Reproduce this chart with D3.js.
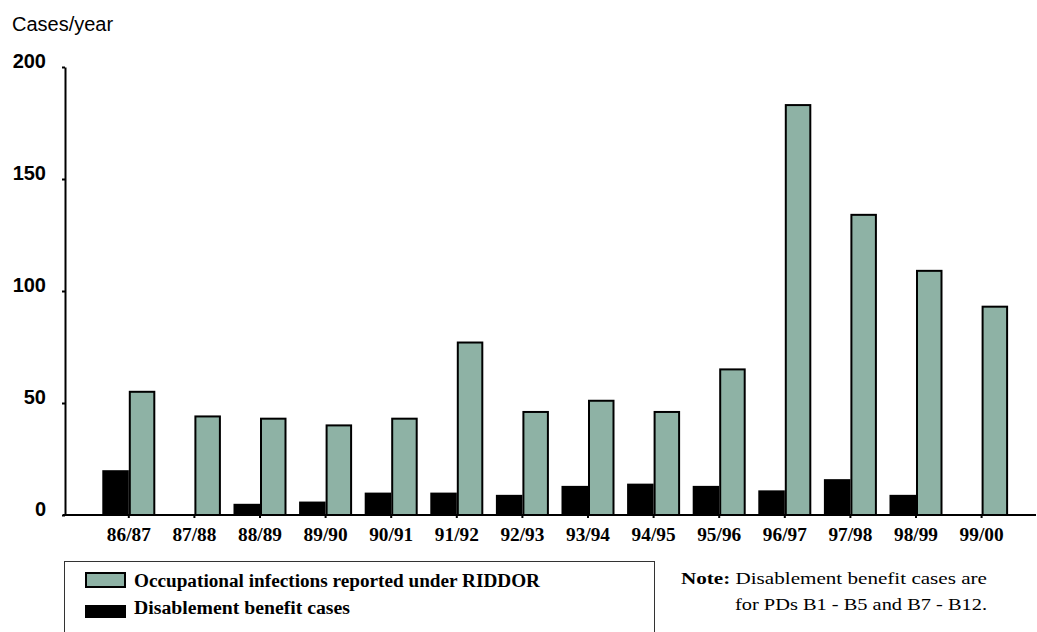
<!DOCTYPE html>
<html>
<head>
<meta charset="utf-8">
<script src="https://cdn.jsdelivr.net/npm/d3@7"></script>
<style>
  html, body { margin: 0; padding: 0; background: #fff; }
  svg { display: block; }
</style>
</head>
<body>
<script>
// Reporting years (financial years)
const years = ["86/87","87/88","88/89","89/90","90/91","91/92","92/93","93/94","94/95","95/96","96/97","97/98","98/99","99/00"];
// Disablement benefit cases per year
const benefitCases = [20, 0, 5, 6, 10, 10, 9, 13, 14, 13, 11, 16, 9, 0];
// Occupational infections reported under RIDDOR per year
const riddorCases = [55, 44, 43, 40, 43, 77, 46, 51, 46, 65, 183, 134, 109, 93];
// Y axis ticks
const yTicks = [0, 50, 100, 150, 200];

const W = 1037, H = 632;
const svg = d3.select("body").append("svg").attr("width", W).attr("height", H);

const GREEN = "#8eb2a5";
const sans = "'Liberation Sans', Arial, sans-serif";
const serif = "'Liberation Serif', 'Times New Roman', serif";

const y = d3.scaleLinear().domain([0, 200]).range([515, 67]);
const pad = 0.192;
const x = d3.scaleBand().domain(years).range([96, 1014.4]).paddingInner(pad).paddingOuter(pad / 2);
const series = ["benefit", "riddor"];
const xs = d3.scaleBand().domain(series).range([0, x.bandwidth()]);

const rows = years.map((yr, i) => ({ year: yr, benefit: benefitCases[i], riddor: riddorCases[i] }));

// Bars
const groups = svg.append("g").selectAll("g").data(rows).join("g")
  .attr("transform", d => `translate(${x(d.year)},0)`);

groups.filter(d => d.benefit > 0).append("rect")
  .attr("x", xs("benefit"))
  .attr("width", xs.bandwidth())
  .attr("y", d => y(d.benefit))
  .attr("height", d => y(0) - y(d.benefit))
  .attr("fill", "#000");

groups.append("rect")
  .attr("x", xs("riddor") + 1)
  .attr("width", xs.bandwidth() - 2)
  .attr("y", d => y(d.riddor))
  .attr("height", d => y(0) - y(d.riddor))
  .attr("fill", GREEN)
  .attr("stroke", "#000")
  .attr("stroke-width", 2);

// Y axis
const yAxis = svg.append("g").attr("transform", "translate(65,0)")
  .call(d3.axisLeft(y).tickValues(yTicks).tickSize(3).tickSizeOuter(0).tickFormat(d3.format("d")));
yAxis.select(".domain").attr("stroke-width", 2);
yAxis.selectAll(".tick line").attr("stroke-width", 2);
yAxis.selectAll(".tick text")
  .attr("x", -19).attr("dy", "0")
  .attr("font-family", sans).attr("font-weight", "bold").attr("font-size", 20).attr("fill", "#000");

// X axis
const xAxis = svg.append("g").attr("transform", "translate(0,515)")
  .call(d3.axisBottom(x).tickSize(3).tickSizeOuter(0));
xAxis.select(".domain").attr("d", "M63,0H1036").attr("stroke-width", 2);
xAxis.selectAll(".tick line").attr("stroke-width", 2);
xAxis.selectAll(".tick text")
  .attr("y", 26).attr("dy", "0")
  .attr("textLength", 44).attr("lengthAdjust", "spacingAndGlyphs")
  .attr("font-family", serif).attr("font-weight", "bold").attr("font-size", 19).attr("fill", "#000");

// Axis title
svg.append("text").attr("x", 12).attr("y", 31)
  .attr("font-family", sans).attr("font-size", 20).text("Cases/year");

// Legend
const lg = svg.append("g");
lg.append("rect").attr("x", 64.5).attr("y", 561.5).attr("width", 590).attr("height", 90)
  .attr("fill", "none").attr("stroke", "#333").attr("stroke-width", 1);
lg.append("rect").attr("x", 86).attr("y", 573).attr("width", 39).attr("height", 14)
  .attr("fill", GREEN).attr("stroke", "#000").attr("stroke-width", 2);
lg.append("rect").attr("x", 85).attr("y", 605).attr("width", 41).attr("height", 13).attr("fill", "#000");
lg.append("text").attr("x", 134).attr("y", 587)
  .attr("textLength", 406).attr("lengthAdjust", "spacingAndGlyphs")
  .attr("font-family", serif).attr("font-weight", "bold").attr("font-size", 18)
  .text("Occupational infections reported under RIDDOR");
lg.append("text").attr("x", 134).attr("y", 614)
  .attr("textLength", 216).attr("lengthAdjust", "spacingAndGlyphs")
  .attr("font-family", serif).attr("font-weight", "bold").attr("font-size", 18)
  .text("Disablement benefit cases");

// Note
svg.append("text").attr("font-family", serif).attr("font-size", 17)
  .attr("x", 681).attr("y", 584)
  .attr("textLength", 306).attr("lengthAdjust", "spacingAndGlyphs")
  .call(t => {
    t.append("tspan").attr("font-weight", "bold").text("Note:");
    t.append("tspan").text(" Disablement benefit cases are");
  });
svg.append("text").attr("font-family", serif).attr("font-size", 17)
  .attr("x", 735).attr("y", 610)
  .attr("textLength", 252).attr("lengthAdjust", "spacingAndGlyphs")
  .text("for PDs B1 - B5 and B7 - B12.");
</script>
</body>
</html>
